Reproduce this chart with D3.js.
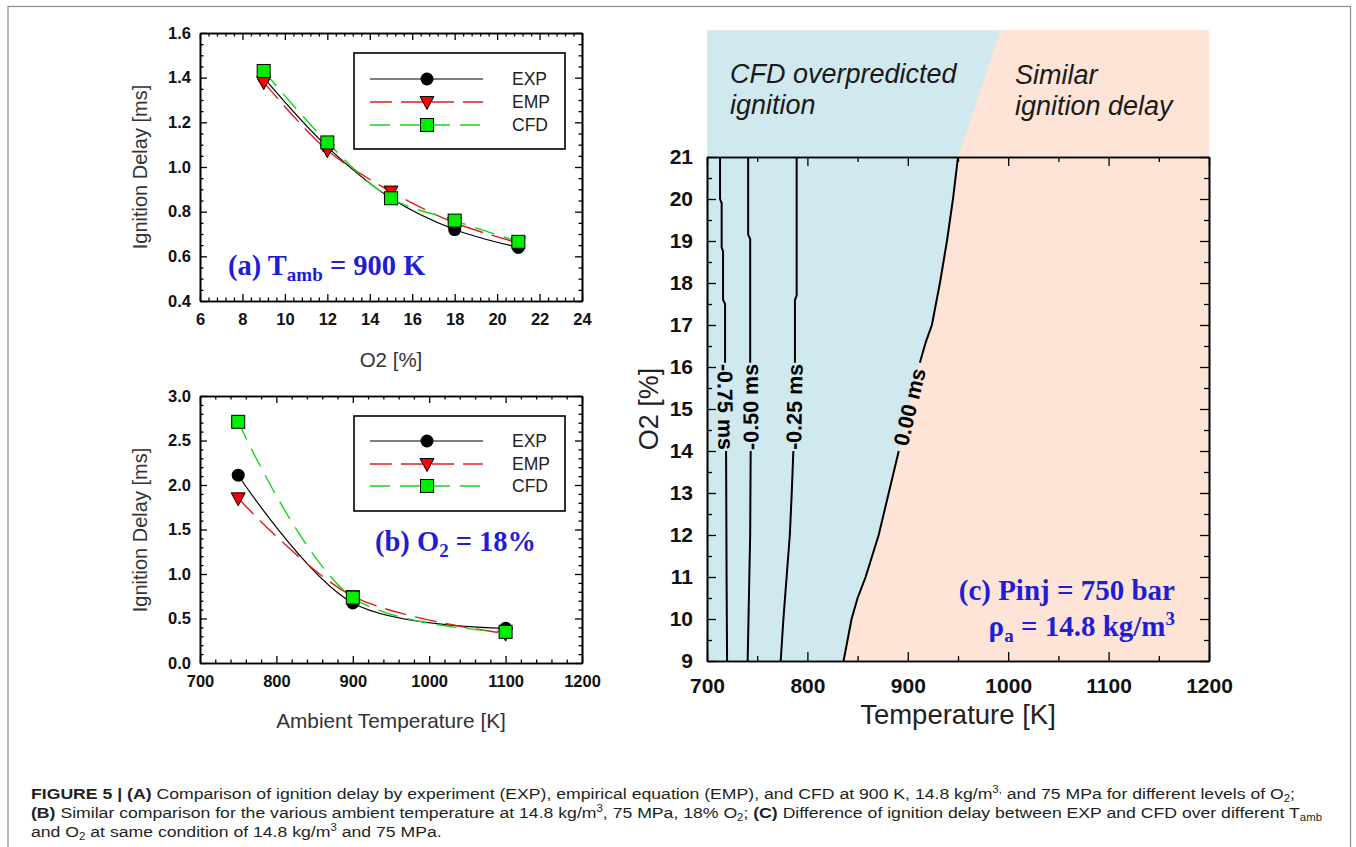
<!DOCTYPE html>
<html><head><meta charset="utf-8">
<script src="https://cdn.jsdelivr.net/npm/d3@7"></script>
<style>
html,body{margin:0;padding:0;background:#fff;}
svg{display:block;}
</style></head>
<body>
<svg id="chart" width="1356" height="847"></svg>
<script>
// ---------------- DATA ----------------
const seriesNames = ['EXP', 'EMP', 'CFD'];

// Panel (a): ignition delay vs O2 at 900 K
const o2Levels = [9, 12, 15, 18, 21];
const expA = [1.40, 1.09, 0.86, 0.72, 0.64];
const empA = [1.38, 1.075, 0.89, 0.75, 0.66];
const cfdA = [1.43, 1.11, 0.86, 0.76, 0.665];
const xTicksA = [6, 8, 10, 12, 14, 16, 18, 20, 22, 24];
const yTicksA = [0.4, 0.6, 0.8, 1.0, 1.2, 1.4, 1.6];

// Panel (b): ignition delay vs ambient temperature at 18% O2
const tempLevels = [750, 900, 1100];
const expB = [2.11, 0.675, 0.39];
const empB = [1.85, 0.75, 0.33];
const cfdB = [2.71, 0.735, 0.35];
const xTicksB = [700, 800, 900, 1000, 1100, 1200];
const yTicksB = [0.0, 0.5, 1.0, 1.5, 2.0, 2.5, 3.0];

// Panel (c): contour lines of (EXP - CFD) difference, [T (K), O2 (%)]
const contourLevels = ['-0.75 ms', '-0.50 ms', '-0.25 ms', '0.00 ms'];
const contourLow = [   // below the label (O2 9 -> 14)
  [[720, 9], [719.5, 11], [719, 14.0]],
  [[740.5, 9], [741.5, 10.2], [743, 12], [743.5, 14.0]],
  [[773.4, 9], [776.1, 10], [779.3, 11], [782.5, 12], [784.4, 13], [786, 14.0]],
  [[836, 9], [844, 10], [850, 10.5], [858, 11], [871, 12], [881, 13], [891, 14.0]]
];
const contourHigh = [  // above the label (O2 16.1 -> 21)
  [[718, 16.1], [718, 17.5], [716, 17.6], [716, 18.75], [714.6, 18.85], [714.6, 19.9], [713, 20.0], [713, 21]],
  [[743, 16.1], [743, 19.05], [741, 19.15], [741, 21]],
  [[787.6, 16.1], [787.6, 17.6], [789.3, 17.7], [789.3, 21]],
  [[912, 16.1], [918, 16.6], [924, 17], [932, 18], [939, 19], [945, 20], [950, 21]]
];
const contourLabelUp = [false, true, true, true];
const regionTop = [992, 24.02];     // boundary point at the top of the coloured band
const xTicksC = [700, 800, 900, 1000, 1100, 1200];
const yTicksC = [9, 10, 11, 12, 13, 14, 15, 16, 17, 18, 19, 20, 21];

// ---------------- STYLE ----------------
const SANS = "'Liberation Sans', Arial, Helvetica, sans-serif";
const SERIF = "'Liberation Serif', 'Times New Roman', serif";
const lineColors = ['#000000', '#e01e1e', '#18d418'];
const lineDash = [null, '22,9', '20,10'];
const markerFill = ['#000000', '#ff0000', '#00ee00'];
const BLUE = '#1e1ed6';

const svg = d3.select('#chart');
svg.append('rect').attr('width', 1356).attr('height', 847).attr('fill', '#fff');
svg.append('rect').attr('x', 8).attr('y', 6.5).attr('width', 1342.5).attr('height', 850)
  .attr('fill', 'none').attr('stroke', '#8a8a8a').attr('stroke-width', 1.2);

function marker(g, shape, cx, cy, fill) {
  if (shape === 0) {
    g.append('circle').attr('cx', cx).attr('cy', cy).attr('r', 6.5).attr('fill', fill);
  } else if (shape === 1) {
    const s = 7;
    g.append('path').attr('d', `M${cx - s},${cy - 5.5}L${cx + s},${cy - 5.5}L${cx},${cy + 7.5}Z`)
      .attr('fill', fill).attr('stroke', '#000').attr('stroke-width', 1);
  } else {
    g.append('rect').attr('x', cx - 6.5).attr('y', cy - 6.5).attr('width', 13).attr('height', 13)
      .attr('fill', fill).attr('stroke', '#000').attr('stroke-width', 1);
  }
}

function minorVals(major, n) {
  const out = [];
  for (let i = 0; i < major.length - 1; i++) {
    const a = major[i], b = major[i + 1];
    for (let k = 1; k < n; k++) out.push(a + (b - a) * k / n);
  }
  return out;
}

function frame(g, x, y, xMajor, xMinorN, yMajor, yMinorN, o) {
  const [xl, xr] = x.range();
  const [yb, yt] = y.range();
  const maj = o.maj, min = o.min;
  const fmtX = o.fmtX, fmtY = o.fmtY;
  const xMin = minorVals(xMajor, xMinorN), yMin = minorVals(yMajor, yMinorN);
  const style = sel => {
    sel.select('.domain').attr('stroke', '#000').attr('stroke-width', 1.6);
    sel.selectAll('.tick line').attr('stroke', '#000').attr('stroke-width', 1.3);
    sel.selectAll('text').attr('font-family', SANS).attr('font-weight', 'bold')
      .attr('font-size', o.fs).attr('fill', '#111');
  };
  // bottom
  g.append('g').attr('transform', `translate(0,${yb})`)
    .call(d3.axisBottom(x).tickValues(xMajor).tickSize(-maj).tickSizeOuter(0).tickPadding(o.padX).tickFormat(fmtX)).call(style);
  g.append('g').attr('transform', `translate(0,${yb})`)
    .call(d3.axisBottom(x).tickValues(xMin).tickSize(-min).tickSizeOuter(0).tickFormat('')).call(style);
  // top
  g.append('g').attr('transform', `translate(0,${yt})`)
    .call(d3.axisTop(x).tickValues(xMajor).tickSize(-maj).tickSizeOuter(0).tickFormat('')).call(style);
  g.append('g').attr('transform', `translate(0,${yt})`)
    .call(d3.axisTop(x).tickValues(xMin).tickSize(-min).tickSizeOuter(0).tickFormat('')).call(style);
  // left
  g.append('g').attr('transform', `translate(${xl},0)`)
    .call(d3.axisLeft(y).tickValues(yMajor).tickSize(-maj).tickSizeOuter(0).tickPadding(o.padY).tickFormat(fmtY)).call(style);
  g.append('g').attr('transform', `translate(${xl},0)`)
    .call(d3.axisLeft(y).tickValues(yMin).tickSize(-min).tickSizeOuter(0).tickFormat('')).call(style);
  // right
  g.append('g').attr('transform', `translate(${xr},0)`)
    .call(d3.axisRight(y).tickValues(yMajor).tickSize(-maj).tickSizeOuter(0).tickFormat('')).call(style);
  g.append('g').attr('transform', `translate(${xr},0)`)
    .call(d3.axisRight(y).tickValues(yMin).tickSize(-min).tickSizeOuter(0).tickFormat('')).call(style);
}

function linePanel(x, y, xs, seriesVals) {
  const g = svg.append('g');
  const line = d3.line().x(d => x(d[0])).y(d => y(d[1])).curve(d3.curveCatmullRom.alpha(0.5));
  seriesVals.forEach((vals, i) => {
    const pts = xs.map((v, j) => [v, vals[j]]);
    g.append('path').attr('d', line(pts)).attr('fill', 'none')
      .attr('stroke', lineColors[i]).attr('stroke-width', i === 0 ? 1.2 : 1.4)
      .attr('stroke-dasharray', lineDash[i]);
  });
  seriesVals.forEach((vals, i) => {
    xs.forEach((v, j) => marker(g, i, x(v), y(vals[j]), markerFill[i]));
  });
  return g;
}

function legend(x0, y0, w, h, rows) {
  const g = svg.append('g');
  g.append('rect').attr('x', x0).attr('y', y0).attr('width', w).attr('height', h)
    .attr('fill', '#fff').attr('stroke', '#000').attr('stroke-width', 1.6);
  seriesNames.forEach((name, i) => {
    const yy = y0 + rows[i];
    g.append('line').attr('x1', x0 + 16).attr('x2', x0 + 129).attr('y1', yy).attr('y2', yy)
      .attr('stroke', lineColors[i]).attr('stroke-width', i === 0 ? 1.2 : 1.4)
      .attr('stroke-dasharray', lineDash[i]);
    marker(g, i, x0 + 73, yy, markerFill[i]);
    g.append('text').attr('x', x0 + 158).attr('y', yy + 6).text(name)
      .attr('font-family', SANS).attr('font-size', 17.5).attr('fill', '#222');
  });
}

// ---------------- PANEL (a) ----------------
const xA = d3.scaleLinear().domain([6, 24]).range([200, 582]);
const yA = d3.scaleLinear().domain([0.4, 1.6]).range([301, 33]);
const gA = svg.append('g');
frame(gA, xA, yA, xTicksA, 5, yTicksA, 4, {maj: 7, min: 3.5, padX: 12, padY: 9, fs: 16.5,
  fmtX: d3.format('d'), fmtY: d3.format('.1f')});
linePanel(xA, yA, o2Levels, [expA, empA, cfdA]);
legend(354, 53, 211, 96, [26, 49, 72]);
svg.append('text').attr('transform', 'translate(147,167) rotate(-90)').attr('text-anchor', 'middle')
  .attr('font-family', SANS).attr('font-size', 20).attr('fill', '#333').text('Ignition Delay [ms]');
svg.append('text').attr('x', 391).attr('y', 367).attr('text-anchor', 'middle')
  .attr('font-family', SANS).attr('font-size', 20.5).attr('fill', '#333').text('O2 [%]');
{
  const t = svg.append('text').attr('x', 228).attr('y', 275).attr('font-family', SERIF)
    .attr('font-weight', 'bold').attr('font-size', 28.5).attr('fill', BLUE);
  t.append('tspan').text('(a) T');
  t.append('tspan').attr('font-size', 19).attr('dy', 6).text('amb');
  t.append('tspan').attr('dy', -6).text(' = 900 K');
}

// ---------------- PANEL (b) ----------------
const xB = d3.scaleLinear().domain([700, 1200]).range([200, 582]);
const yB = d3.scaleLinear().domain([0, 3]).range([663, 396]);
const gB = svg.append('g');
frame(gB, xB, yB, xTicksB, 5, yTicksB, 5, {maj: 7, min: 3.5, padX: 12, padY: 9, fs: 16.5,
  fmtX: d3.format('d'), fmtY: d3.format('.1f')});
linePanel(xB, yB, tempLevels, [expB, empB, cfdB]);
legend(354, 416, 211, 95, [25, 48, 70]);
svg.append('text').attr('transform', 'translate(147,530) rotate(-90)').attr('text-anchor', 'middle')
  .attr('font-family', SANS).attr('font-size', 20).attr('fill', '#333').text('Ignition Delay [ms]');
svg.append('text').attr('x', 391).attr('y', 728).attr('text-anchor', 'middle')
  .attr('font-family', SANS).attr('font-size', 20.8).attr('fill', '#333').text('Ambient Temperature [K]');
{
  const t = svg.append('text').attr('x', 375).attr('y', 551).attr('font-family', SERIF)
    .attr('font-weight', 'bold').attr('font-size', 28.5).attr('fill', BLUE);
  t.append('tspan').text('(b) O');
  t.append('tspan').attr('font-size', 19).attr('dy', 6).text('2');
  t.append('tspan').attr('dy', -6).text(' = 18%');
}

// ---------------- PANEL (c) ----------------
const xC = d3.scaleLinear().domain([700, 1200]).range([707, 1209]);
const yC = d3.scaleLinear().domain([9, 21]).range([661, 157]);
const gC = svg.append('g');
// background regions
gC.append('rect').attr('x', xC(700)).attr('y', yC(regionTop[1])).attr('width', xC(1200) - xC(700))
  .attr('height', yC(9) - yC(regionTop[1])).attr('fill', '#fde4d6');
{
  const boundary = [[700, 9]].concat(contourLow[3], contourHigh[3], [regionTop, [700, regionTop[1]]]);
  gC.append('path').attr('d', d3.line().x(d => xC(d[0])).y(d => yC(d[1]))(boundary) + 'Z')
    .attr('fill', '#cfe9ef');
}
// region labels
function twoLines(x, y1, y2, l1, l2) {
  const t = gC.append('g').attr('font-family', SANS).attr('font-style', 'italic')
    .attr('font-size', 27).attr('fill', '#1a1a1a');
  t.append('text').attr('x', x).attr('y', y1).text(l1);
  t.append('text').attr('x', x).attr('y', y2).text(l2);
}
twoLines(730, 83, 114, 'CFD overpredicted', 'ignition');
twoLines(1015, 84, 115, 'Similar', 'ignition delay');

// contour lines
const cLine = d3.line().x(d => xC(d[0])).y(d => yC(d[1]));
contourLevels.forEach((lab, i) => {
  [contourLow[i], contourHigh[i]].forEach(seg => {
    gC.append('path').attr('d', cLine(seg)).attr('fill', 'none').attr('stroke', '#000').attr('stroke-width', 2);
  });
  const a = contourLow[i][contourLow[i].length - 1];
  const b = contourHigh[i][0];
  const ax = xC(a[0]), ay = yC(a[1]), bx = xC(b[0]), by = yC(b[1]);
  const mx = (ax + bx) / 2, my = (ay + by) / 2;
  let ang = Math.atan2(by - ay, bx - ax) * 180 / Math.PI; // bottom -> top
  if (!contourLabelUp[i]) ang += 180;
  gC.append('text').attr('transform', `translate(${mx},${my}) rotate(${ang})`)
    .attr('text-anchor', 'middle').attr('dy', '0.36em')
    .attr('font-family', SANS).attr('font-weight', 'bold').attr('font-size', 21.5).attr('fill', '#000')
    .text(lab);
});

frame(gC, xC, yC, xTicksC, 2, yTicksC, 2, {maj: 9, min: 5, padX: 17, padY: 14, fs: 21,
  fmtX: d3.format('d'), fmtY: d3.format('d')});
svg.append('text').attr('transform', 'translate(658,409) rotate(-90)').attr('text-anchor', 'middle')
  .attr('font-family', SANS).attr('font-size', 27).attr('fill', '#222').text('O2 [%]');
svg.append('text').attr('x', 958).attr('y', 724).attr('text-anchor', 'middle')
  .attr('font-family', SANS).attr('font-size', 27.5).attr('fill', '#222').text('Temperature [K]');
{
  svg.append('text').attr('x', 1175).attr('y', 600).attr('text-anchor', 'end')
    .attr('font-family', SERIF).attr('font-weight', 'bold').attr('font-size', 29).attr('fill', BLUE)
    .text('(c) Pinj = 750 bar');
  const t2 = svg.append('text').attr('x', 1175).attr('y', 636).attr('text-anchor', 'end')
    .attr('font-family', SERIF).attr('font-weight', 'bold').attr('font-size', 29).attr('fill', BLUE);
  t2.append('tspan').text('ρ');
  t2.append('tspan').attr('font-size', 19).attr('dy', 6).text('a');
  t2.append('tspan').attr('dy', -6).text(' = 14.8 kg/m');
  t2.append('tspan').attr('font-size', 19).attr('dy', -11).text('3');
}

// ---------------- CAPTION ----------------
const capLines = [
  [['b', 'FIGURE 5 | (A)'], ['n', ' Comparison of ignition delay by experiment (EXP), empirical equation (EMP), and CFD at 900 K, 14.8 kg/m'], ['sup', '3,'], ['n', ' and 75 MPa for different levels of O'], ['sub', '2'], ['n', ';']],
  [['b', '(B)'], ['n', ' Similar comparison for the various ambient temperature at 14.8 kg/m'], ['sup', '3'], ['n', ', 75 MPa, 18% O'], ['sub', '2'], ['n', '; '], ['b', '(C)'], ['n', ' Difference of ignition delay between EXP and CFD over different T'], ['sub', 'amb']],
  [['n', 'and O'], ['sub', '2'], ['n', ' at same condition of 14.8 kg/m'], ['sup', '3'], ['n', ' and 75 MPa.']]
];
const capBase = [799, 818, 837];
const capWidth = [1264, 1291, null];
let ratio = 1;
capLines.forEach((parts, li) => {
  const t = svg.append('text').attr('x', 31).attr('y', capBase[li])
    .attr('font-family', SANS).attr('font-size', 15.5).attr('fill', '#231f20');
  let shift = 0;
  parts.forEach(([kind, txt]) => {
    const s = t.append('tspan').text(txt);
    let target = 0, fs = null;
    if (kind === 'b') s.attr('font-weight', 'bold');
    if (kind === 'sup') { target = -6; fs = 10; }
    if (kind === 'sub') { target = 3; fs = 10; }
    if (fs) s.attr('font-size', fs);
    s.attr('dy', target - shift); shift = target;
  });
  const nat = t.node().getComputedTextLength();
  if (capWidth[li]) ratio = capWidth[li] / nat;
  t.attr('textLength', nat * ratio).attr('lengthAdjust', 'spacingAndGlyphs');
});
</script>
</body></html>
